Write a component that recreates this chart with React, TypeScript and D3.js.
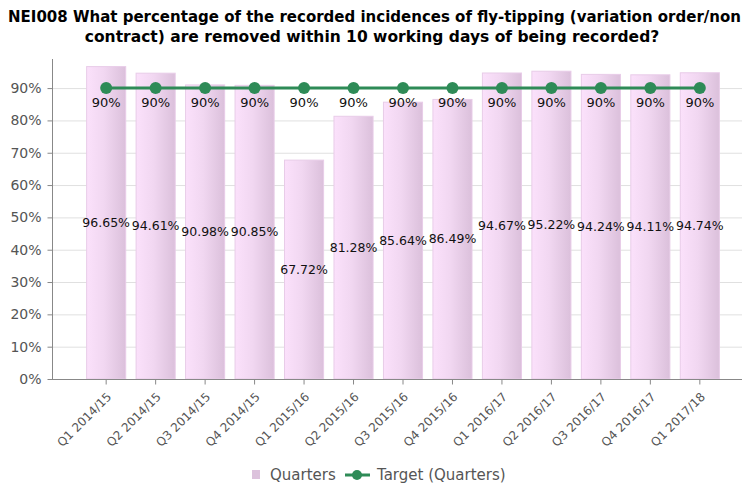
import { useEffect, useRef } from "react";
import * as d3 from "d3";

const quarters = [
  "Q1 2014/15",
  "Q2 2014/15",
  "Q3 2014/15",
  "Q4 2014/15",
  "Q1 2015/16",
  "Q2 2015/16",
  "Q3 2015/16",
  "Q4 2015/16",
  "Q1 2016/17",
  "Q2 2016/17",
  "Q3 2016/17",
  "Q4 2016/17",
  "Q1 2017/18",
];
const actual = [96.65, 94.61, 90.98, 90.85, 67.72, 81.28, 85.64, 86.49, 94.67, 95.22, 94.24, 94.11, 94.74];
const target = [90, 90, 90, 90, 90, 90, 90, 90, 90, 90, 90, 90, 90];
const yTicks = [0, 10, 20, 30, 40, 50, 60, 70, 80, 90];

const W = 742;
const H = 484;
const font = "Verdana, 'DejaVu Sans', sans-serif";

const App = () => {
  const svgRef = useRef<SVGSVGElement | null>(null);

  useEffect(() => {
    const svg = d3.select(svgRef.current);
    svg.selectAll("*").remove();

    const left = 52;
    const bottom = 379;
    const top = 59;

    const x = d3
      .scaleBand()
      .domain(quarters)
      .range([left, 754])
      .paddingInner(0.21)
      .paddingOuter(0.7);

    const y = d3.scaleLinear().domain([0, 99]).range([bottom, top]);
    const cx = (i: number) => (x(quarters[i]) || 0) + x.bandwidth() / 2;

    const defs = svg.append("defs");
    const grad = defs
      .append("linearGradient")
      .attr("id", "barGrad")
      .attr("x1", "0%")
      .attr("x2", "100%");
    grad.append("stop").attr("offset", "0%").attr("stop-color", "#fbe1fb");
    grad.append("stop").attr("offset", "45%").attr("stop-color", "#f1d7f1");
    grad.append("stop").attr("offset", "100%").attr("stop-color", "#dbc0db");

    // title (second line a hair larger, the first runs off the right edge like the original)
    const title = svg
      .append("text")
      .attr("font-family", "'DejaVu Sans', Verdana, sans-serif")
      .attr("font-weight", "bold")
      .attr("fill", "#000");
    title
      .append("tspan")
      .attr("x", 8)
      .attr("y", 22)
      .attr("font-size", 15)
      .text(
        "NEI008 What percentage of the recorded incidences of fly-tipping (variation order/non",
      );
    title
      .append("tspan")
      .attr("x", 372)
      .attr("y", 42)
      .attr("font-size", 15.5)
      .attr("text-anchor", "middle")
      .text("contract) are removed within 10 working days of being recorded?");

    // grid
    svg
      .append("g")
      .selectAll("line")
      .data(yTicks.slice(1))
      .enter()
      .append("line")
      .attr("x1", left)
      .attr("x2", W)
      .attr("y1", (d) => y(d) + 0.5)
      .attr("y2", (d) => y(d) + 0.5)
      .attr("stroke", "#e0e0e0")
      .attr("stroke-width", 1);

    // bars
    svg
      .append("g")
      .selectAll("rect")
      .data(actual)
      .enter()
      .append("rect")
      .attr("x", (_, i) => x(quarters[i]) || 0)
      .attr("y", (d) => y(d))
      .attr("width", x.bandwidth())
      .attr("height", (d) => bottom - y(d))
      .attr("fill", "url(#barGrad)")
      .attr("stroke", "#e8cce8")
      .attr("stroke-width", 1);

    // y axis
    const yAxis = svg
      .append("g")
      .attr("transform", `translate(${left + 0.5},0)`)
      .call(
        d3
          .axisLeft(y)
          .tickValues(yTicks)
          .tickSize(5)
          .tickPadding(6)
          .tickFormat((d) => `${d}%`),
      );
    yAxis.select(".domain").attr("d", `M0,${top}V${bottom + 0.5}`).attr("stroke", "#888");
    yAxis.selectAll(".tick line").attr("stroke", "#888");
    yAxis
      .selectAll(".tick text")
      .attr("font-family", font)
      .attr("font-size", 14)
      .attr("fill", "#555");

    // x axis
    const xAxis = svg
      .append("g")
      .attr("transform", `translate(0,${bottom + 0.5})`)
      .call(d3.axisBottom(x).tickSize(5));
    xAxis.select(".domain").attr("d", `M${left},0H${W}`).attr("stroke", "#888");
    xAxis.selectAll(".tick line").attr("stroke", "#888");
    xAxis
      .selectAll(".tick text")
      .attr("font-family", font)
      .attr("font-size", 12)
      .attr("fill", "#555")
      .attr("text-anchor", "end")
      .attr("y", 0)
      .attr("dy", 0)
      .attr("transform", "translate(6,18) rotate(-45)");

    // bar value labels
    svg
      .append("g")
      .selectAll("text")
      .data(actual)
      .enter()
      .append("text")
      .attr("x", (_, i) => cx(i))
      .attr("y", (d) => y(d / 2) + 4)
      .attr("text-anchor", "middle")
      .attr("font-family", font)
      .attr("font-size", 12.5)
      .attr("fill", "#111")
      .text((d) => `${d.toFixed(2)}%`);

    // target line
    const line = d3
      .line<number>()
      .x((_, i) => cx(i))
      .y((d) => y(d));
    svg
      .append("path")
      .datum(target)
      .attr("d", line)
      .attr("fill", "none")
      .attr("stroke", "#2e8b57")
      .attr("stroke-width", 3);
    svg
      .append("g")
      .selectAll("circle")
      .data(target)
      .enter()
      .append("circle")
      .attr("cx", (_, i) => cx(i))
      .attr("cy", (d) => y(d))
      .attr("r", 6)
      .attr("fill", "#2e8b57");
    svg
      .append("g")
      .selectAll("text")
      .data(target)
      .enter()
      .append("text")
      .attr("x", (_, i) => cx(i))
      .attr("y", (d) => y(d) + 19)
      .attr("text-anchor", "middle")
      .attr("font-family", font)
      .attr("font-size", 13)
      .attr("fill", "#111")
      .text((d) => `${d}%`);

    // legend
    const lg = svg.append("g").attr("transform", "translate(0,480)");
    lg.append("rect")
      .attr("x", 252)
      .attr("y", -10)
      .attr("width", 8)
      .attr("height", 9)
      .attr("fill", "#dcc2dc");
    lg.append("text")
      .attr("x", 270)
      .attr("y", 0)
      .attr("font-family", font)
      .attr("font-size", 15)
      .attr("fill", "#555")
      .text("Quarters");
    lg.append("line")
      .attr("x1", 345)
      .attr("x2", 370)
      .attr("y1", -5)
      .attr("y2", -5)
      .attr("stroke", "#2e8b57")
      .attr("stroke-width", 3);
    lg.append("circle").attr("cx", 357).attr("cy", -5).attr("r", 5).attr("fill", "#2e8b57");
    lg.append("text")
      .attr("x", 377)
      .attr("y", 0)
      .attr("font-family", font)
      .attr("font-size", 15)
      .attr("fill", "#555")
      .text("Target (Quarters)");
  }, []);

  return (
    <svg
      ref={svgRef}
      width={W}
      height={H}
      style={{ position: "absolute", left: 0, top: 0, background: "#fff" }}
    />
  );
};

export default App;
